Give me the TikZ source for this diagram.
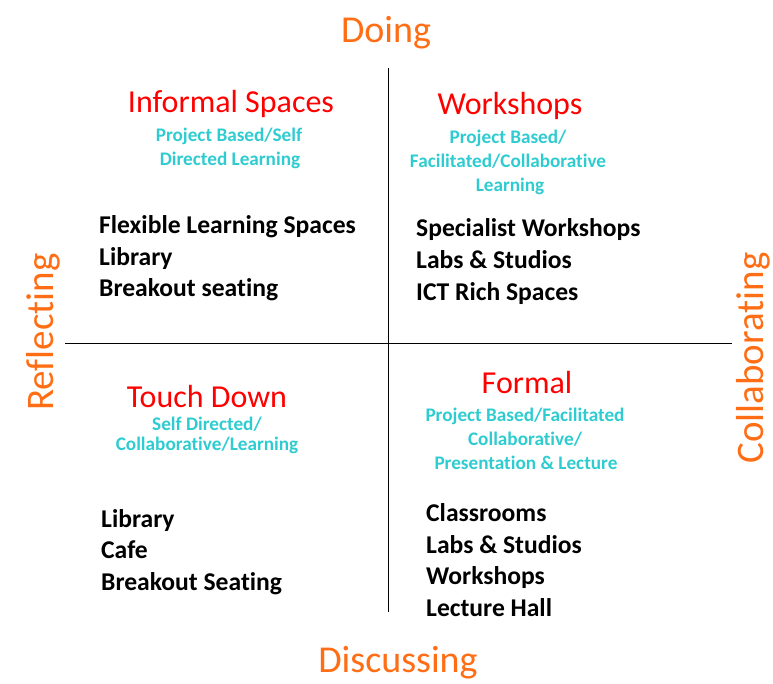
\documentclass[tikz,border=0pt]{standalone}
\usepackage{fontspec}
\setmainfont[Ligatures={NoCommon}]{Carlito}
\definecolor{axisorange}{RGB}{255,110,20}
\definecolor{headred}{RGB}{255,0,0}
\definecolor{subcyan}{RGB}{46,204,208}
\tikzset{
  axislabel/.style={text=axisorange, font=\fontsize{38}{42}\selectfont, inner sep=0pt, text height=0.7em, text depth=0.2em},
  head/.style={text=headred, font=\fontsize{32}{36}\selectfont, inner sep=0pt, text height=0.7em, text depth=0.2em, yshift=-7pt},
  sub/.style={text=subcyan, font=\bfseries\fontsize{19.2}{24}\selectfont, inner sep=0pt, text height=0.7em, text depth=0.2em, yshift=-5pt},
  item/.style={text=black, font=\bfseries\fontsize{25.6}{30}\selectfont, inner sep=0pt, anchor=west, text height=0.7em, text depth=0.2em, yshift=-6pt},
  axisline/.style={draw=black, line width=0.9pt}
}
\begin{document}
\begin{tikzpicture}[x=1pt,y=-1pt]
\useasboundingbox (0,0) rectangle (773,683);
% axes
\coordinate (vtop) at (388,68);
\coordinate (vbot) at (388,612);
\coordinate (hl) at (65,343);
\coordinate (hr) at (732,343);
\draw[axisline] (vtop) -- (vbot);
\draw[axisline] (hl) -- (hr);
% axis labels
\node[axislabel] (doing) at (386,40) {Doing};
\node[axislabel] (discussing) at (398,670) {Discussing};
\node[axislabel, rotate=90, font=\fontsize{39}{44}\selectfont] (reflecting) at (51,332) {Reflecting};
\node[axislabel, rotate=90, font=\fontsize{39}{44}\selectfont] (collab) at (761,358) {Collaborating};
% top-left
\node[head] (h1) at (231,103) {Informal Spaces};
\node[sub] (s1a) at (229,134) {Project Based/Self};
\node[sub] (s1b) at (230,158) {Directed Learning};
\node[item] (i1a) at (99,225) {Flexible Learning Spaces};
\node[item] (i1b) at (99,257) {Library};
\node[item] (i1c) at (99,288) {Breakout seating};
% top-right
\node[head] (h2) at (510,105) {Workshops};
\node[sub] (s2a) at (508,136) {Project Based/};
\node[sub] (s2b) at (508,160) {Facilitated/Collaborative};
\node[sub] (s2c) at (510,184) {Learning};
\node[item] (i2a) at (416,228) {Specialist Workshops};
\node[item] (i2b) at (416,260) {Labs \& Studios};
\node[item] (i2c) at (416,292) {ICT Rich Spaces};
% bottom-left
\node[head] (h3) at (207,398) {Touch Down};
\node[sub] (s3a) at (207,423) {Self Directed/};
\node[sub] (s3b) at (207,443) {Collaborative/Learning};
\node[item] (i3a) at (101,519) {Library};
\node[item] (i3b) at (101,550) {Cafe};
\node[item] (i3c) at (101,582) {Breakout Seating};
% bottom-right
\node[head] (h4) at (527,384) {Formal};
\node[sub] (s4a) at (525,414) {Project Based/Facilitated};
\node[sub] (s4b) at (525,438) {Collaborative/};
\node[sub] (s4c) at (526,462) {Presentation \& Lecture};
\node[item] (i4a) at (426,513) {Classrooms};
\node[item] (i4b) at (426,545) {Labs \& Studios};
\node[item] (i4c) at (426,576) {Workshops};
\node[item] (i4d) at (426,608) {Lecture Hall};
\end{tikzpicture}
\end{document}
